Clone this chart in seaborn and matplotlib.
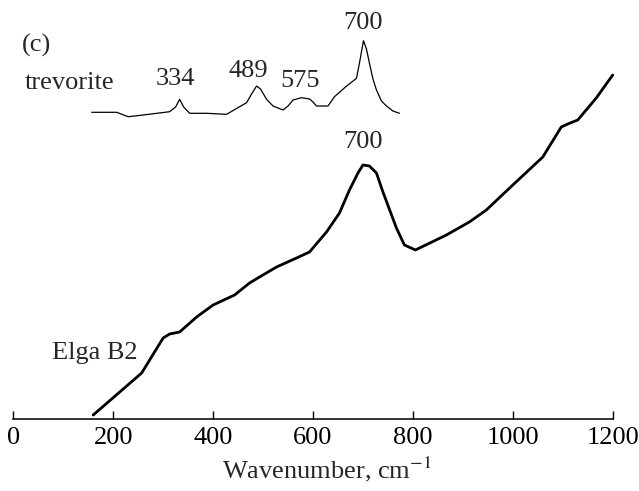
import numpy as np
import pandas as pd
import matplotlib
matplotlib.use("Agg")
import matplotlib.pyplot as plt
import seaborn as sns

# Elga B2 spectrum (wavenumber, relative intensity)
elga_x = [160, 257, 300, 313, 333, 367, 400, 443, 473, 493, 527, 567, 593, 627,
          653, 673, 680, 690, 700, 713, 727, 740, 767, 783, 805, 867, 913, 947,
          1000, 1060, 1097, 1110, 1130, 1167, 1200]
elga_y = [4, 46, 81, 85, 87, 102, 114, 124, 136, 142, 152, 161, 167, 187,
          206, 229, 236, 246, 254, 253, 246, 227, 191, 174, 169, 184, 197, 209,
          234, 262, 292, 295, 299, 321, 344]

# trevorite reference spectrum (offset above Elga)
trev_x = [157, 207, 230, 260, 313, 325, 333, 341, 353, 387, 427, 467, 477, 487,
          495, 507, 520, 540, 550, 560, 577, 593, 600, 607, 630, 643, 665, 687,
          693, 701, 707, 713, 720, 727, 737, 747, 760, 773]
trev_y = [306.7, 306.7, 302.3, 304, 307.3, 312, 319.7, 312, 305.7, 305.7,
          304.7, 316.3, 325, 333, 330, 319.7, 313, 309, 313, 319, 321.3, 320,
          317, 313, 313, 322.3, 332, 340.7, 356, 378.3, 370, 355.7, 340, 329,
          318, 313, 308, 305.7]

trev_peaks = [334, 489, 575, 700]
x_ticks = [0, 200, 400, 600, 800, 1000, 1200]

sns.set_style("white")
plt.rcParams["font.family"] = ["Liberation Serif", "DejaVu Serif"]
plt.rcParams["mathtext.fontset"] = "stix"

fig = plt.figure(figsize=(6.39, 4.91), dpi=100)
ax = fig.add_axes([0, 0, 1, 1])

elga = pd.DataFrame({"x": elga_x, "y": elga_y})
trev = pd.DataFrame({"x": trev_x, "y": trev_y})
sns.lineplot(data=elga, x="x", y="y", ax=ax, color="black", lw=2.0,
             sort=False, estimator=None)
sns.lineplot(data=trev, x="x", y="y", ax=ax, color="black", lw=0.9,
             sort=False, estimator=None)

ax.set_xlim(-26.6, 1252.6)
ax.set_ylim(-72, 419)

for s in ["top", "left", "right"]:
    ax.spines[s].set_visible(False)
ax.spines["bottom"].set_position(("data", 0))
ax.spines["bottom"].set_bounds(0, 1200)
ax.spines["bottom"].set_linewidth(1.1)
ax.spines["bottom"].set_color("black")
ax.set_xticks(x_ticks)
ax.set_xticklabels([str(t) for t in x_ticks])
fs = 19
ax.tick_params(axis="x", direction="in", length=6, width=1.0, pad=6,
               labelsize=fs, colors="black", bottom=True)
ax.set_yticks([])
ax.set_xlabel("")
ax.set_ylabel("")

ax.text(628, -50, r"Wavenumber, cm$^{-1}$", ha="center", va="center", fontsize=fs)
ax.text(18, 374, "(c)", ha="left", va="center", fontsize=fs)
ax.text(22, 336, "trevorite", ha="left", va="center", fontsize=fs)
label_pos = {334: (324, 340), 489: (470, 348), 575: (575, 338), 700: (701, 396)}
for p in trev_peaks:
    px, py = label_pos[p]
    ax.text(px, py, str(p), ha="center", va="center", fontsize=fs)
ax.text(700, 277, "700", ha="center", va="center", fontsize=fs)
ax.text(78, 66, "Elga B2", ha="left", va="center", fontsize=fs)

fig.savefig("out.png", dpi=100)
